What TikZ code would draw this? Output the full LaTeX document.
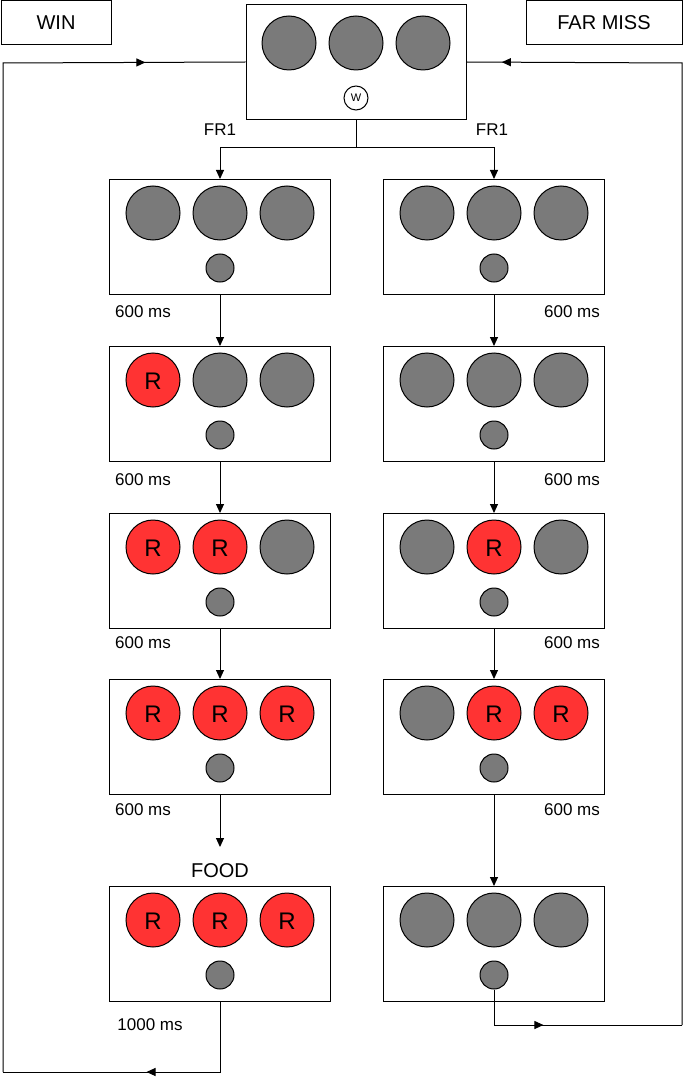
\documentclass[tikz,border=0pt]{standalone}
\usepackage{fontspec}
\setmainfont{Liberation Sans}
\usetikzlibrary{arrows.meta,decorations.markings}
\definecolor{gr}{RGB}{122,122,122}
\definecolor{rd}{RGB}{255,51,51}
\begin{document}
\begin{tikzpicture}[x=1pt,y=-1pt,line width=1pt,
 panel/.style={draw,minimum width=221pt,minimum height=115pt,inner sep=0pt},
 big/.style={circle,draw,fill=gr,minimum size=54pt,inner sep=0pt},
 bigr/.style={circle,draw,fill=rd,minimum size=54pt,inner sep=0pt,font=\fontsize{24}{24}\selectfont},
 small/.style={circle,draw,fill=gr,minimum size=28pt,inner sep=0pt},
 lbl/.style={font=\fontsize{17}{17}\selectfont},
 arr/.style={-{Triangle[length=9pt,width=8pt]}},
 midarr/.style={postaction={decorate},decoration={markings,mark=at position #1 with {\arrow{Triangle[length=9pt,width=8pt]}}}}]
\useasboundingbox (0,0) rectangle (685,1083);
\node[draw,minimum width=110pt,minimum height=44pt,lbl,font=\fontsize{20}{20}\selectfont] (win) at (56,23) {WIN};
\node[draw,minimum width=156pt,minimum height=44pt,font=\fontsize{20}{20}\selectfont] (fm) at (604,23) {FAR MISS};
\node[draw,minimum width=220pt,minimum height=115pt,inner sep=0pt] (top) at (356,62) {};
\foreach \x in {289,356,423} \node[big] at (\x,43) {};
\node[circle,draw,minimum size=24pt,inner sep=0pt,font=\fontsize{11}{11}\selectfont] (w) at (356,98) {W};
% panels
\def\rowys{237/1,404/2,571/3,737/4,944/5}
\foreach \y/\i in \rowys {
  \node[panel] (L\i) at (220,\y) {};
  \node[panel] (R\i) at (494,\y) {};
  \node[small] (Ls\i) at (220,\y+31) {};
  \node[small] (Rs\i) at (494,\y+31) {};
}
% left circles
\newcommand{\crow}[5]{% x1,y, styles
  \node[#3] at (#1-67,#2) {\ifx#3bigr R\fi};}
\foreach \y/\a/\b/\c in {213/big/big/big,380/bigr/big/big,547/bigr/bigr/big,713/bigr/bigr/bigr,920/bigr/bigr/bigr}{
  \node[\a] at (153,\y) {}; \node[\b] at (220,\y) {}; \node[\c] at (287,\y) {};
}
\foreach \y/\a/\b/\c in {213/big/big/big,380/big/big/big,547/big/bigr/big,713/big/bigr/bigr,920/big/big/big}{
  \node[\a] at (427,\y) {}; \node[\b] at (494,\y) {}; \node[\c] at (561,\y) {};
}
\foreach \x/\y in {153/380,153/547,220/547,153/713,220/713,287/713,153/920,220/920,287/920,494/547,494/713,561/713}
  \node[font=\fontsize{24}{24}\selectfont] at (\x,\y+1) {R};
% labels
\foreach \y in {312,480,643,810}{
  \node[lbl] at (143,\y) {600 ms};
  \node[lbl] at (572,\y) {600 ms};
}
\node[lbl] at (150,1025) {1000 ms};
\node[font=\fontsize{20}{20}\selectfont] (food) at (220,871) {FOOD};
\node[lbl] at (220,130) {FR1};
\node[lbl] at (492,130) {FR1};
% connectors
\coordinate (sp) at (356,148);
\draw (top.south) -- (sp);
\draw[arr] (sp) -| (L1.north);
\draw[arr] (sp) -| (R1.north);
\foreach \i/\j in {1/2,2/3,3/4}{
  \draw[arr] (L\i.south) -- (L\j.north);
  \draw[arr] (R\i.south) -- (R\j.north);
}
\draw[arr] (L4.south) -- (220,847);
\draw[arr] (R4.south) -- (R5.north);
\coordinate (wa) at (220,1072); \coordinate (wb) at (3,1072); \coordinate (wc) at (3,63);
\draw[midarr=0.5] (L5.south) -- (wa) -- (wb);
\draw[midarr=0.92] (wb) -- (wc) -- (top.west);
\coordinate (fa) at (494,1025); \coordinate (fb) at (682,1025); \coordinate (fc) at (682,63);
\draw[midarr=0.38] (Rs5.south) -- (fa) -- (fb);
\draw[midarr=0.97] (fb) -- (fc) -- (top.east);
\end{tikzpicture}
\end{document}
